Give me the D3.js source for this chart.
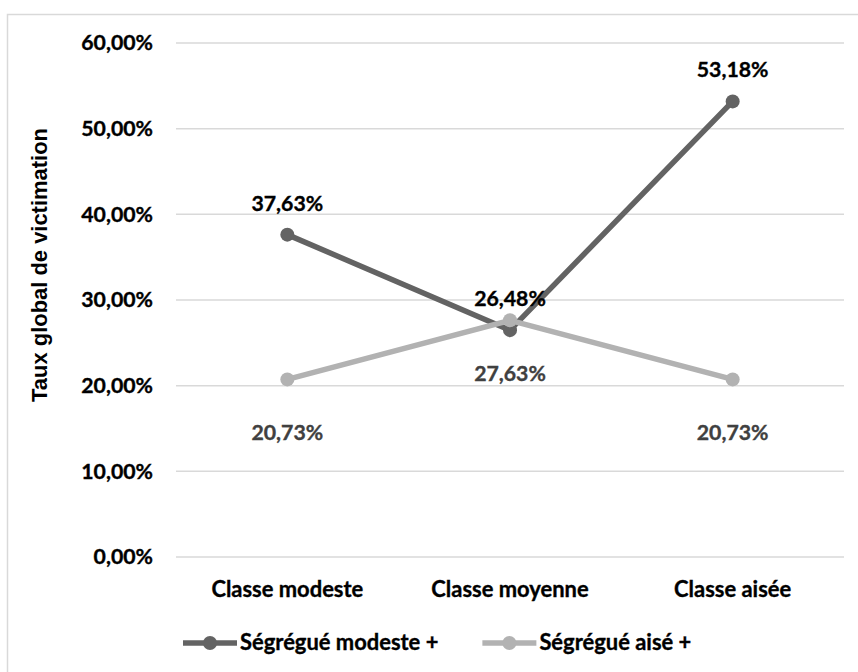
<!DOCTYPE html>
<html><head><meta charset="utf-8">
<script src="https://cdn.jsdelivr.net/npm/d3@7"></script>
<style>body{margin:0;background:#fff}</style>
</head><body>
<svg id="chart" width="858" height="672"></svg>
<script>
const categories = ["Classe modeste", "Classe moyenne", "Classe aisée"];
const seriesNames = ["Ségrégué modeste +", "Ségrégué aisé +"];
const modesteValues = [37.63, 26.48, 53.18];
const aiseValues = [20.73, 27.63, 20.73];
const yTicks = [0, 10, 20, 30, 40, 50, 60];
const axisTitle = "Taux global de victimation";

const series = [
  {name: seriesNames[0], values: modesteValues, color: "#636363", labelColor: "#000000", pos: "above"},
  {name: seriesNames[1], values: aiseValues, color: "#b2b2b2", labelColor: "#404040", pos: "below"}
];

const svg = d3.select("#chart");
const font = "Lato, 'Open Sans', sans-serif";
const fmt = v => v.toFixed(2).replace(".", ",") + "%";

// size the main font so that "Classe modeste" is ~152px wide
const probe = svg.append("text").attr("font-family", font).attr("font-weight", 700)
  .attr("font-size", 20).text(categories[0]);
const fs = 20 * 152 / probe.node().getComputedTextLength();
probe.remove();
const probe2 = svg.append("text").attr("font-family", "'Liberation Sans', Arial, sans-serif")
  .attr("font-weight", 700).attr("font-size", 20).text(axisTitle);
const fsTitle = 20 * 274 / probe2.node().getComputedTextLength();
probe2.remove();

function styleText(sel, size) {
  return sel.attr("font-family", font).attr("font-weight", 700).attr("font-size", size)
    .attr("stroke-width", 0.35).attr("paint-order", "stroke");
}

// outer border (top and left visible)
svg.append("path").attr("d", "M7.5,672 L7.5,14.5 L858,14.5")
  .attr("fill", "none").attr("stroke", "#d9d9d9").attr("stroke-width", 1.5);

const x = d3.scaleBand().domain(categories).range([176, 844]);
const y = d3.scaleLinear().domain([0, 60]).range([557, 43]);

// gridlines
svg.append("g").selectAll("line").data(yTicks).join("line")
  .attr("x1", 176).attr("x2", 844)
  .attr("y1", d => y(d)).attr("y2", d => y(d))
  .attr("stroke", "#d9d9d9").attr("stroke-width", 1.5);

// y tick labels
styleText(svg.append("g").selectAll("text").data(yTicks).join("text")
  .attr("x", 153).attr("y", d => y(d)).attr("dy", "0.35em")
  .attr("text-anchor", "end"), fs * 0.97)
  .attr("fill", "#000").attr("stroke", "#000")
  .text(d => d.toFixed(2).replace(".", ",") + "%");

// axis title
svg.append("text").attr("transform", "translate(47,265) rotate(-90)")
  .attr("text-anchor", "middle").attr("font-family", "'Liberation Sans', Arial, sans-serif")
  .attr("font-weight", 700).attr("font-size", fsTitle).attr("fill", "#000").text(axisTitle);

// category labels
styleText(svg.append("g").selectAll("text").data(categories).join("text")
  .attr("x", d => x(d) + x.bandwidth() / 2).attr("y", 597)
  .attr("text-anchor", "middle"), fs)
  .attr("fill", "#000").attr("stroke", "#000").text(d => d);

const cx = (i) => x(categories[i]) + x.bandwidth() / 2;
const line = d3.line().x((d, i) => cx(i)).y(d => y(d));

series.forEach(s => {
  const g = svg.append("g");
  g.append("path").datum(s.values).attr("d", line)
    .attr("fill", "none").attr("stroke", s.color).attr("stroke-width", 5.5)
    .attr("stroke-linejoin", "round");
  g.selectAll("circle").data(s.values).join("circle")
    .attr("cx", (d, i) => cx(i)).attr("cy", d => y(d)).attr("r", 7)
    .attr("fill", s.color);
});

// data labels
series.forEach(s => {
  styleText(svg.append("g").selectAll("text").data(s.values).join("text")
    .attr("x", (d, i) => cx(i))
    .attr("y", d => s.pos === "above" ? y(d) - 24 : y(d) + 61)
    .attr("text-anchor", "middle"), fs * 0.97)
    .attr("fill", s.labelColor).attr("stroke", s.labelColor).text(d => fmt(d));
});

// legend
let lx = 183;
series.forEach((s, i) => {
  const g = svg.append("g");
  g.append("line").attr("x1", lx).attr("x2", lx + 54).attr("y1", 643).attr("y2", 643)
    .attr("stroke", s.color).attr("stroke-width", 5.5);
  g.append("circle").attr("cx", lx + 27).attr("cy", 643).attr("r", 7).attr("fill", s.color);
  const t = styleText(g.append("text").attr("x", lx + 57).attr("y", 650), fs)
    .attr("fill", "#000").attr("stroke", "#000").text(s.name);
  lx = lx + 57 + t.node().getComputedTextLength() + 44;
});
</script>
</body></html>
